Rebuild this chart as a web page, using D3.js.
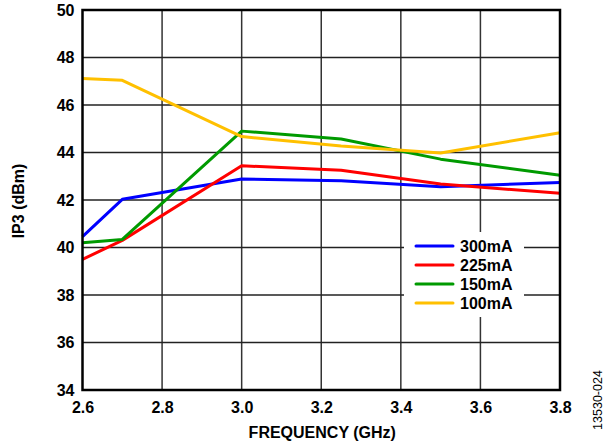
<!DOCTYPE html>
<html><head><meta charset="utf-8">
<script src="https://cdn.jsdelivr.net/npm/d3@7"></script>
<style>body{margin:0;background:#fff}svg{display:block}</style>
</head><body><svg id="c" width="608" height="444"></svg>
<script>
const freqs = [2.6, 2.7, 3.0, 3.25, 3.5, 3.8];
const s300 = [40.46, 42.03, 42.88, 42.81, 42.56, 42.74];
const s225 = [39.5, 40.3, 43.44, 43.25, 42.67, 42.28];
const s150 = [40.2, 40.34, 44.9, 44.57, 43.72, 43.04];
const s100 = [47.12, 47.04, 44.67, 44.27, 43.98, 44.83];
const seriesNames = ["300mA", "225mA", "150mA", "100mA"];
const seriesColors = ["#0000ff", "#ff0000", "#009a00", "#ffc000"];
const xTicks = [2.6, 2.8, 3.0, 3.2, 3.4, 3.6, 3.8];
const yTicks = [34, 36, 38, 40, 42, 44, 46, 48, 50];

const svg = d3.select("#c");
const L = 82.5, R = 560, T = 10, B = 390;
const x = d3.scaleLinear().domain([2.6, 3.8]).range([L, R]);
const y = d3.scaleLinear().domain([34, 50]).range([B, T]);
const font = "'Liberation Sans', Arial, sans-serif";

// grid
const g = svg.append("g");
g.selectAll(".vx").data(xTicks.slice(1, -1)).enter().append("line")
  .attr("x1", d => x(d)).attr("x2", d => x(d)).attr("y1", T).attr("y2", B)
  .attr("stroke", "#333").attr("stroke-width", 1.5);
g.selectAll(".hy").data(yTicks.slice(1, -1)).enter().append("line")
  .attr("y1", d => y(d)).attr("y2", d => y(d)).attr("x1", L).attr("x2", R)
  .attr("stroke", "#222").attr("stroke-width", 1.5);

// axes with labels
const xAxis = d3.axisBottom(x).tickValues(xTicks).tickSize(0).tickPadding(12).tickFormat(d3.format(".1f"));
const yAxis = d3.axisLeft(y).tickValues(yTicks).tickSize(0).tickPadding(8).tickFormat(d3.format("d"));
const gx = svg.append("g").attr("transform", `translate(0,${B})`).call(xAxis);
const gy = svg.append("g").attr("transform", `translate(${L},0)`).call(yAxis);
[gx, gy].forEach(a => {
  a.select(".domain").remove();
  a.selectAll("text").attr("font-family", font).attr("font-weight", "bold")
    .attr("font-size", 16).attr("fill", "#000");
});

// legend background (drawn before lines)
svg.append("rect").attr("x", 404).attr("y", 232).attr("width", 120).attr("height", 85).attr("fill", "#fff");

// lines
const allSeries = [s300, s225, s150, s100];
const line = d3.line().x((d, i) => x(freqs[i])).y(d => y(d));
svg.selectAll(".ser").data(allSeries).enter().append("path")
  .attr("d", d => line(d)).attr("fill", "none")
  .attr("stroke", (d, i) => seriesColors[i]).attr("stroke-width", 3)
  .attr("stroke-linejoin", "round");

// frame
svg.append("rect").attr("x", L).attr("y", T).attr("width", R - L).attr("height", B - T)
  .attr("fill", "none").attr("stroke", "#000").attr("stroke-width", 2.5);

// legend
const lg = svg.append("g");
seriesNames.forEach((n, i) => {
  const yy = 246 + i * 19;
  lg.append("line").attr("x1", 416).attr("x2", 453).attr("y1", yy).attr("y2", yy)
    .attr("stroke", seriesColors[i]).attr("stroke-width", 3).attr("stroke-linecap", "round");
  lg.append("text").attr("x", 460).attr("y", yy).attr("dy", "0.35em")
    .attr("font-family", font).attr("font-weight", "bold").attr("font-size", 16).text(n);
});

// axis titles
svg.append("text").attr("x", (L + R) / 2 + 1).attr("y", 438).attr("text-anchor", "middle")
  .attr("font-family", font).attr("font-weight", "bold").attr("font-size", 16).text("FREQUENCY (GHz)");
svg.append("text").attr("transform", "translate(24,201) rotate(-90)").attr("text-anchor", "middle")
  .attr("font-family", font).attr("font-weight", "bold").attr("font-size", 16).text("IP3 (dBm)");
svg.append("text").attr("transform", "translate(602,400) rotate(-90)").attr("text-anchor", "middle")
  .attr("font-family", font).attr("font-size", 12.5).text("13530-024");
</script></body></html>
